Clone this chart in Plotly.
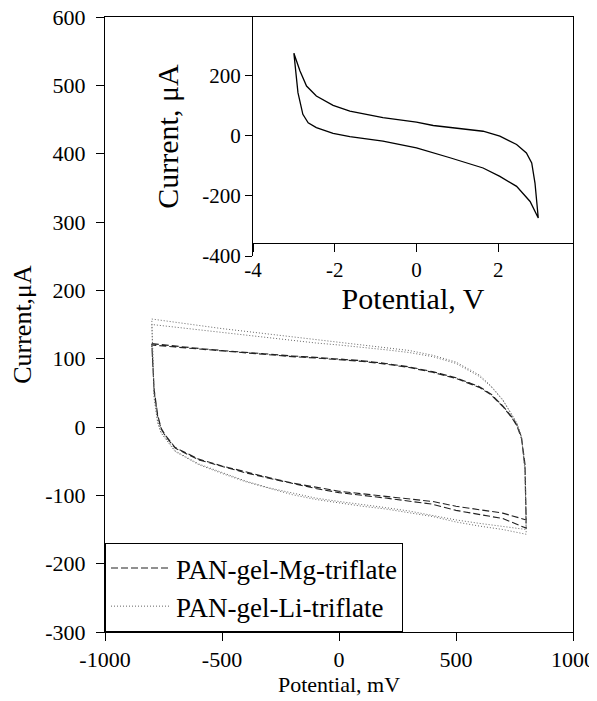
import plotly.graph_objects as go

# ---------------- main chart data (mV, uA) ----------------
up_x = [-800, -700, -600, -500, -400, -300, -200, -100, 0, 100, 200, 300, 400,
        500, 600, 650, 700, 740, 760, 780, 795, 800]
down_x = [800, 700, 600, 500, 400, 300, 200, 100, 0, -100, -200, -300, -400,
          -500, -600, -700, -740, -760, -775, -790, -800]

mg_up_c1 = [122, 118, 115, 112, 109, 106, 104, 102, 100, 97, 93, 88, 81, 72, 59,
            48, 31, 14, 3, -15, -55, -136]
mg_down_c1 = [-136, -126, -121, -116, -109, -105, -102, -98, -94, -88, -82, -74,
              -66, -57, -47, -30, -13, -2, 18, 55, 122]
mg_up_c2 = [120, 117, 114, 111, 108, 105, 103, 101, 99, 96, 92, 87, 80, 71, 58,
            47, 30, 13, 2, -17, -60, -148]
mg_down_c2 = [-148, -134, -128, -122, -113, -108, -104, -100, -96, -90, -83, -75,
              -67, -58, -48, -31, -14, -3, 16, 52, 120]

li_up_c1 = [158, 153, 149, 144, 140, 136, 132, 129, 125, 121, 117, 112, 105, 95,
            76, 60, 40, 18, 6, -14, -60, -150]
li_down_c1 = [-150, -146, -141, -136, -129, -123, -118, -114, -109, -104, -97,
              -89, -79, -67, -54, -35, -18, -8, 8, 45, 150]
li_up_c2 = [150, 146, 142, 138, 134, 130, 126, 123, 120, 117, 113, 109, 103, 93,
            74, 59, 39, 17, 5, -16, -65, -157]
li_down_c2 = [-157, -150, -145, -139, -131, -125, -120, -116, -111, -106, -99,
              -90, -80, -68, -55, -36, -19, -9, 6, 42, 158]

series_names = ["PAN-gel-Mg-triflate", "PAN-gel-Li-triflate"]

# ---------------- inset data (V, uA) ----------------
inset_x = [-3.0, -2.85, -2.69, -2.45, -2.04, -1.63, -0.82, 0.0, 0.41, 1.22, 1.63,
           2.04, 2.45, 2.69, 2.82, 2.9, 2.98,
           2.78, 2.45, 2.04, 1.63, 0.82, 0.0, -0.82, -1.63, -2.04, -2.45, -2.65,
           -2.78, -2.9, -3.0]
inset_y = [273, 214, 164, 131, 100, 81, 59, 44, 33, 22, 14,
           -2, -30, -58, -91, -158, -274,
           -219, -169, -136, -108, -74, -41, -19, -4, 7, 26, 42,
           70, 142, 273]

main_xticks = [-1000, -500, 0, 500, 1000]
main_yticks = [-300, -200, -100, 0, 100, 200, 300, 400, 500, 600]
inset_xticks = [-4, -2, 0, 2]
inset_yticks = [-400, -200, 0, 200]

FONT = "Liberation Serif, Times New Roman, serif"

mg_x = up_x + down_x + up_x + down_x
mg_y = mg_up_c1 + mg_down_c1 + mg_up_c2 + mg_down_c2
li_x = up_x + down_x + up_x + down_x
li_y = li_up_c1 + li_down_c1 + li_up_c2 + li_down_c2

fig = go.Figure()
fig.add_trace(go.Scatter(x=mg_x, y=mg_y, mode="lines", name=series_names[0],
                         line=dict(color="#222222", width=1.1, dash="7px,3px"),
                         xaxis="x", yaxis="y"))
fig.add_trace(go.Scatter(x=li_x, y=li_y, mode="lines", name=series_names[1],
                         line=dict(color="#666666", width=1, dash="1px,2px"),
                         xaxis="x", yaxis="y"))
fig.add_trace(go.Scatter(x=inset_x, y=inset_y, mode="lines", showlegend=False,
                         line=dict(color="black", width=1.3),
                         xaxis="x2", yaxis="y2"))

# page has an 8px body margin: figure drawn from window (8, 8)
OFF = 8
W, H = 589, 693
ml, mr, mt, mb = 97, 24, 9, 69
pw, ph = W - ml - mr, H - mt - mb


def fx(px):
    return (px - OFF - ml) / pw


def fy(py):
    return (H - mb - (py - OFF)) / ph


def labels(vals):
    return [str(v) for v in vals]


axis_common = dict(showline=True, linecolor="black", linewidth=1,
                   ticks="outside", ticklen=8, tickcolor="black",
                   showgrid=False, zeroline=False, automargin=False,
                   ticklabeloverflow="allow",
                   tickfont=dict(family=FONT, size=22, color="black"))
inset_common = {**axis_common,
                "tickfont": dict(family=FONT, size=21, color="black")}

fig.update_layout(
    width=W, height=H, autosize=False,
    margin=dict(l=ml, r=mr, t=mt, b=mb),
    paper_bgcolor="white", plot_bgcolor="white",
    font=dict(family=FONT, color="black"),
    xaxis=dict(domain=[0, 1], range=[-1000, 1000], tickvals=main_xticks,
               ticktext=labels(main_xticks), mirror=True, anchor="y",
               title=dict(text="Potential, mV", font=dict(size=22), standoff=4),
               **axis_common),
    yaxis=dict(domain=[0, 1], range=[-300, 600], tickvals=main_yticks,
               ticktext=labels(main_yticks), mirror=True, anchor="x",
               ticklabelstandoff=6,
               title=dict(text="Current,μA", font=dict(size=26), standoff=12),
               **axis_common),
    xaxis2=dict(domain=[fx(253), 1], range=[-4, 3.83], tickvals=inset_xticks,
                ticktext=labels(inset_xticks),
                anchor="free", position=fy(243),
                title=dict(text="Potential, V", font=dict(size=30), standoff=0),
                **inset_common),
    yaxis2=dict(domain=[fy(256), 1], range=[-400, 393], tickvals=inset_yticks,
                ticktext=labels(inset_yticks), anchor="x2",
                title=dict(text="Current, μA", font=dict(size=30), standoff=14),
                **{**inset_common, "ticklen": 7}),
    legend=dict(x=0, y=0, xanchor="left", yanchor="bottom",
                bordercolor="black", borderwidth=1, bgcolor="white",
                font=dict(family=FONT, size=27, color="black"),
                tracegroupgap=0, itemwidth=60),
    showlegend=True,
)

fig.write_html("out.html")
